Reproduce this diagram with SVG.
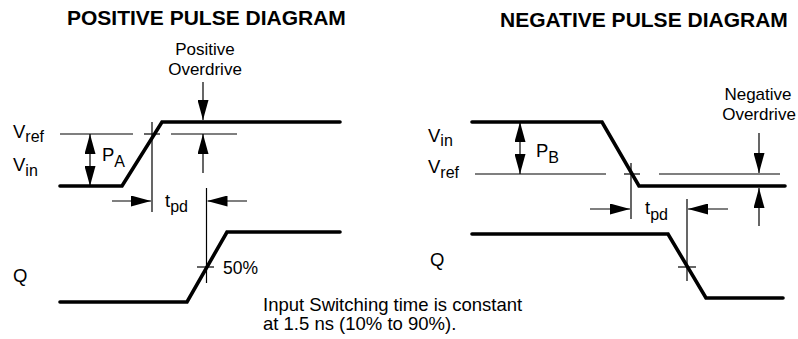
<svg xmlns="http://www.w3.org/2000/svg" width="798" height="339" viewBox="0 0 798 339">
<defs>
<style>
.bg{fill:#fff}
.thick{fill:none;stroke:#000;stroke-width:3.6;stroke-linejoin:miter;stroke-linecap:round}
.thin{fill:none;stroke:#000;stroke-width:1.2}
.arr{fill:none;stroke:#000;stroke-width:1.2;marker-end:url(#ah)}
.darr{fill:none;stroke:#000;stroke-width:1.2;marker-start:url(#ah);marker-end:url(#ah)}
text{font-family:"Liberation Sans",Arial,sans-serif;fill:#000}
.title{font-size:21px;font-weight:bold}
.lbl{font-size:18.5px}
.od{font-size:17px;text-anchor:middle}
.note{font-size:18.5px}
.sub{font-size:16px}
</style>
<marker id="ah" markerUnits="userSpaceOnUse" markerWidth="20" markerHeight="11" refX="20" refY="5.5" orient="auto-start-reverse" viewBox="0 0 20 11">
<path d="M0,0 L20,5.5 L0,11 z" fill="#000"/>
</marker>
</defs>
<rect class="bg" x="0" y="0" width="798" height="339"/>

<g id="positive-title"><text class="title" x="67" y="25">POSITIVE PULSE DIAGRAM</text></g>
<g id="negative-title"><text class="title" x="500" y="27">NEGATIVE PULSE DIAGRAM</text></g>

<g id="positive-input">
<polyline class="thick" points="60,186 122,186 162,122 340,122"/>
<text class="lbl" x="13" y="138">V<tspan class="sub" dy="4">ref</tspan></text>
<text class="lbl" x="13" y="171">V<tspan class="sub" dy="5">in</tspan></text>
<text class="lbl" x="102" y="161">P<tspan class="sub" dy="6">A</tspan></text>
</g>
<g id="positive-ref">
<line class="thin" x1="60" y1="134" x2="133" y2="134"/>
<line class="thin" x1="144" y1="134" x2="160" y2="134"/>
<line class="thin" x1="171" y1="134" x2="237" y2="134"/>
</g>
<g id="positive-overdrive">
<text class="od" x="205" y="55">Positive</text>
<text class="od" x="205" y="75">Overdrive</text>
</g>
<g id="positive-output">
<polyline class="thick" points="60,302 187,302 227,232 340,232"/>
<text class="lbl" x="13" y="282">Q</text>
<line class="thin" x1="197" y1="267" x2="214" y2="267"/>
<text class="lbl" x="223" y="274" style="font-size:17.5px">50%</text>
</g>
<g id="positive-tpd">
<text class="lbl" x="165" y="207">t<tspan class="sub" dy="5">pd</tspan></text>
</g>

<g id="negative-input">
<polyline class="thick" points="472,122 602,122 639,186 785,186"/>
<text class="lbl" x="428" y="142">V<tspan class="sub" dy="4">in</tspan></text>
<text class="lbl" x="428" y="173">V<tspan class="sub" dy="5">ref</tspan></text>
<text class="lbl" x="536" y="157">P<tspan class="sub" dy="6">B</tspan></text>
</g>
<g id="negative-ref">
<line class="thin" x1="475" y1="174" x2="606" y2="174"/>
<line class="thin" x1="624" y1="174" x2="640" y2="174"/>
<line class="thin" x1="659" y1="174" x2="780" y2="174"/>
</g>
<g id="negative-overdrive">
<text class="od" x="758" y="100">Negative</text>
<text class="od" x="759" y="120">Overdrive</text>
</g>
<g id="negative-output">
<polyline class="thick" points="472,234 668,234 706,298 783,298"/>
<text class="lbl" x="430" y="266">Q</text>
<line class="thin" x1="678" y1="267" x2="696" y2="267"/>
</g>
<g id="negative-tpd">
<text class="lbl" x="645" y="214">t<tspan class="sub" dy="6">pd</tspan></text>
</g>

<g id="note">
<text class="note" x="263" y="311">Input Switching time is constant</text>
<text class="note" x="263" y="330">at 1.5 ns (10% to 90%).</text>
</g>

<g id="connectors">
<line class="thin" x1="152" y1="122" x2="152" y2="212"/>
<line class="thin" x1="206.5" y1="188" x2="206.5" y2="283"/>
<line class="darr" x1="90" y1="134" x2="90" y2="186"/>
<line class="arr" x1="203" y1="82" x2="203" y2="120"/>
<line class="arr" x1="203" y1="173" x2="203" y2="134"/>
<line class="arr" x1="112" y1="201" x2="151" y2="201"/>
<line class="arr" x1="247" y1="201" x2="207.5" y2="201"/>

<line class="thin" x1="631" y1="163" x2="631" y2="219"/>
<line class="thin" x1="687" y1="199" x2="687" y2="281"/>
<line class="darr" x1="520" y1="122" x2="520" y2="174"/>
<line class="arr" x1="759" y1="133" x2="759" y2="173"/>
<line class="arr" x1="759" y1="226" x2="759" y2="188"/>
<line class="arr" x1="590" y1="209" x2="630" y2="209"/>
<line class="arr" x1="728" y1="209" x2="688" y2="209"/>
</g>
</svg>
